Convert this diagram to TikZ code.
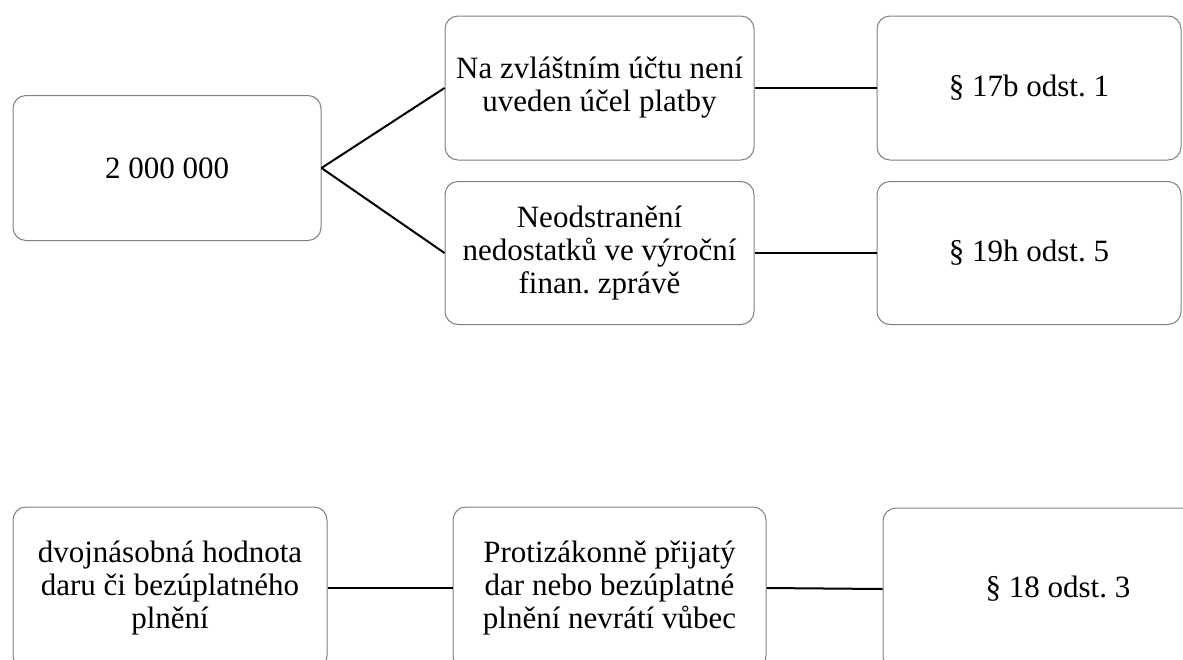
\documentclass[tikz,border=0pt]{standalone}
\usepackage{fontspec}
\setmainfont{Liberation Serif}
\newfontfamily\tnrfont{Liberation Serif}
\begin{document}
\frenchspacing
\begin{tikzpicture}[x=1pt,y=-1pt,
  box/.style={draw=black!50, line width=1pt, rounded corners=13pt, fill=white,
    align=center, inner sep=2pt, font=\tnrfont\fontsize{31}{33}\selectfont},
  link/.style={draw=black, line width=2pt}]
\useasboundingbox (0,0) rectangle (1183,659);
\clip (0,0) rectangle (1183,659);
\fill[white] (0,0) rectangle (1183,659);
\node[box, minimum width=308pt, minimum height=145pt] (n1) at (167,168) {2 000 000};
\node[box, minimum width=309pt, minimum height=144pt] (n2) at (599.5,88) {Na zvláštním účtu není\\uveden účel platby};
\node[box, minimum width=309pt, minimum height=143pt] (n3) at (599.5,253) {Neodstranění\\nedostatků ve výroční\\finan. zprávě};
\node[box, minimum width=304pt, minimum height=144pt] (n4) at (1029,88) {§ 17b odst. 1};
\node[box, minimum width=304pt, minimum height=143pt] (n5) at (1029,253) {§ 19h odst. 5};
\node[box, minimum width=314pt, minimum height=162pt] (b1) at (170,588) {dvojnásobná hodnota\\daru či bezúplatného\\plnění};
\node[box, minimum width=313pt, minimum height=162pt] (b2) at (609.5,588) {Protizákonně přijatý\\dar nebo bezúplatné\\plnění nevrátí vůbec};
\node[box, minimum width=350pt, minimum height=162pt] (b3) at (1058,589) {§ 18 odst. 3};
\draw[link] (n1.east) -- (n2.west);
\draw[link] (n1.east) -- (n3.west);
\draw[link] (n2.east) -- (n4.west);
\draw[link] (n3.east) -- (n5.west);
\draw[link] (b1.east) -- (b2.west);
\draw[link] (b2.east) -- (b3.west);
\end{tikzpicture}
\end{document}
